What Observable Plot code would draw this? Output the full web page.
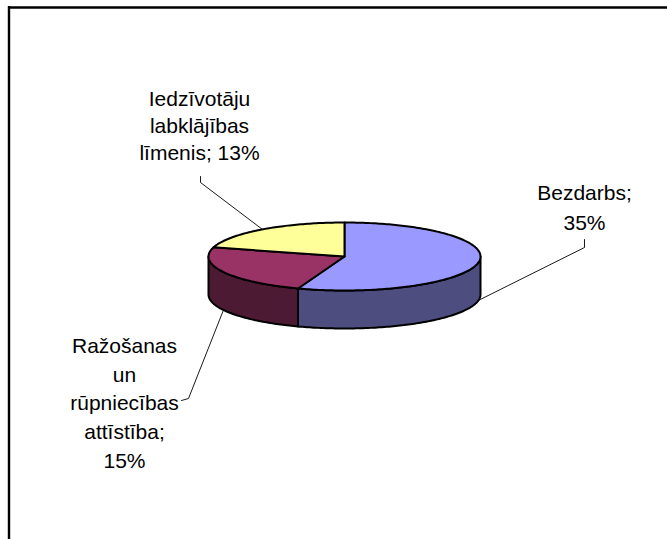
<!DOCTYPE html>
<html>
<head>
<meta charset="utf-8">
<script src="https://cdn.jsdelivr.net/npm/d3@7"></script>
<script src="https://cdn.jsdelivr.net/npm/@observablehq/plot@0.6"></script>
<style>
  html, body { margin: 0; padding: 0; background: #ffffff; }
  #chart svg { display: block; background: #ffffff; }
</style>
</head>
<body>
<div id="chart"></div>
<script>
// ---- data ----
const categories = ["Bezdarbs", "Ražošanas un rūpniecības attīstība", "Iedzīvotāju labklājības līmenis"];
const values = [35, 15, 13];
const labelTexts = ["Bezdarbs;\n35%", "Ražošanas\nun\nrūpniecības\nattīstība;\n15%", "Iedzīvotāju\nlabklājības\nlīmenis; 13%"];

// ---- layout / style ----
const W = 667, H = 539;
const pie = {cx: 344, cy: 256, rx: 136, ry: 34, depth: 38};
const topColors = ["#9999FF", "#993366", "#FFFF99"];
const sideColors = ["#4D4D80", "#4D1A33", "#80804D"];
// label layout: center x, first baseline y, line height (px), leader elbow points
const labelLayout = [
  {x: 584, base: 193, lh: 30, elbow: [[584, 247], [584, 239]]},
  {x: 124, base: 347, lh: 28.7, elbow: [[188, 398], [181, 400]]},
  {x: 199, base: 101, lh: 27, elbow: [[200, 182], [200, 176]]}
];
const fontSize = 21;
const font = "'Liberation Sans', Arial, Helvetica, sans-serif";

// ---- geometry from data ----
const total = d3.sum(values);
let acc = 0;
const slices = values.map((v, i) => {
  const a0 = acc / total * 360;
  acc += v;
  const a1 = acc / total * 360;
  return {i, a0, a1, mid: (a0 + a1) / 2};
});
const pt = (deg, dy = 0) => {
  const r = deg * Math.PI / 180;
  return [pie.cx + pie.rx * Math.sin(r), pie.cy - pie.ry * Math.cos(r) + dy];
};
const arc = (a, b, dy = 0) => {
  const n = Math.max(2, Math.ceil(Math.abs(b - a)));
  return d3.range(n + 1).map(k => pt(a + (b - a) * k / n, dy));
};

const topPolys = slices.map(s => {
  const pts = [[pie.cx, pie.cy], ...arc(s.a0, s.a1), [pie.cx, pie.cy]];
  return {i: s.i, pts};
});
const sidePolys = [];
slices.forEach(s => {
  const a = Math.max(s.a0, 90), b = Math.min(s.a1, 270);
  if (b > a) {
    const pts = [...arc(a, b), ...arc(b, a, pie.depth)];
    pts.push(pts[0]);
    sidePolys.push({i: s.i, pts});
  }
});

const leaders = slices.map((s, i) => {
  const onFront = s.mid > 90 && s.mid < 270;
  const anchor = onFront ? pt(s.mid, pie.depth) : pt(s.mid);
  return {i, pts: [anchor, ...labelLayout[i].elbow]};
});

const marks = [];
// frame (only top and left edges visible in reference)
marks.push(Plot.ruleY([7], {x1: 8, x2: W, stroke: "#000", strokeWidth: 2.4}));
marks.push(Plot.ruleX([8.5], {y1: 6, y2: H, stroke: "#000", strokeWidth: 2.4}));

sidePolys.forEach(p => {
  marks.push(Plot.line(p.pts.map(([x, y]) => ({x, y})), {
    x: "x", y: "y", fill: sideColors[p.i], stroke: "#000", strokeWidth: 2, strokeLinejoin: "round"
  }));
});
topPolys.forEach(p => {
  marks.push(Plot.line(p.pts.map(([x, y]) => ({x, y})), {
    x: "x", y: "y", fill: topColors[p.i], stroke: "#000", strokeWidth: 2, strokeLinejoin: "round"
  }));
});
leaders.forEach(l => {
  marks.push(Plot.line(l.pts.map(([x, y]) => ({x, y})), {
    x: "x", y: "y", stroke: "#000", strokeWidth: 0.9
  }));
});
labelTexts.forEach((t, i) => {
  const L = labelLayout[i];
  marks.push(Plot.text([{t, x: L.x, y: L.base - 0.71 * fontSize}], {
    x: "x", y: "y", text: "t", textAnchor: "middle", lineAnchor: "top",
    lineHeight: L.lh / fontSize, fontSize, fontFamily: font, fill: "#000"
  }));
});

const chart = Plot.plot({
  width: W, height: H,
  margin: 0,
  x: {domain: [0, W], range: [0, W], axis: null},
  y: {domain: [0, H], range: [0, H], axis: null},
  style: {background: "#fff", fontFamily: font},
  marks
});
document.getElementById("chart").appendChild(chart);
</script>
</body>
</html>
